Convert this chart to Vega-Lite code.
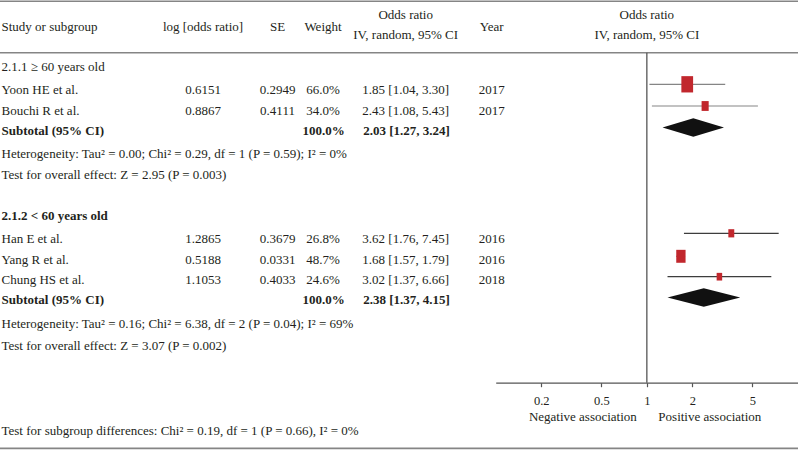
{
  "$schema": "https://vega.github.io/schema/vega-lite/v6.json",
  "width": 798,
  "height": 450,
  "padding": 0,
  "autosize": {"type": "none"},
  "background": "white",
  "config": {
    "view": {"stroke": null},
    "text": {"font": "Liberation Serif", "fontSize": 13, "color": "#231f20"}
  },
  "datasets": {
    "table": [
      {"line": 1.525, "study": "Study or subgroup", "logor": "log [odds ratio]", "se": "SE", "weight": "Weight", "year": "Year", "bold": false},
      {"line": 0.965, "ci": "Odds ratio", "bold": false},
      {"line": 1.965, "ci": "IV, random, 95% CI", "bold": false},
      {"line": 3.55, "study": "2.1.1 ≥ 60 years old", "bold": false},
      {"line": 4.7, "study": "Yoon HE et al.", "logor": "0.6151", "se": "0.2949", "weight": "66.0%", "ci": "1.85 [1.04, 3.30]", "year": "2017", "bold": false},
      {"line": 5.735, "study": "Bouchi R et al.", "logor": "0.8867", "se": "0.4111", "weight": "34.0%", "ci": "2.43 [1.08, 5.43]", "year": "2017", "bold": false},
      {"line": 6.735, "study": "Subtotal (95% CI)", "weight": "100.0%", "ci": "2.03 [1.27, 3.24]", "bold": true},
      {"line": 7.9, "study": "Heterogeneity: Tau² = 0.00; Chi² = 0.29, df = 1 (P = 0.59); I² = 0%", "bold": false},
      {"line": 8.965, "study": "Test for overall effect: Z = 2.95 (P = 0.003)", "bold": false},
      {"line": 11.0, "study": "2.1.2 < 60 years old", "bold": true},
      {"line": 12.165, "study": "Han E et al.", "logor": "1.2865", "se": "0.3679", "weight": "26.8%", "ci": "3.62 [1.76, 7.45]", "year": "2016", "bold": false},
      {"line": 13.2, "study": "Yang R et al.", "logor": "0.5188", "se": "0.0331", "weight": "48.7%", "ci": "1.68 [1.57, 1.79]", "year": "2016", "bold": false},
      {"line": 14.2, "study": "Chung HS et al.", "logor": "1.1053", "se": "0.4033", "weight": "24.6%", "ci": "3.02 [1.37, 6.66]", "year": "2018", "bold": false},
      {"line": 15.2, "study": "Subtotal (95% CI)", "weight": "100.0%", "ci": "2.38 [1.37, 4.15]", "bold": true},
      {"line": 16.415, "study": "Heterogeneity: Tau² = 0.16; Chi² = 6.38, df = 2 (P = 0.04); I² = 69%", "bold": false},
      {"line": 17.485, "study": "Test for overall effect: Z = 3.07 (P = 0.002)", "bold": false},
      {"line": 21.735, "study": "Test for subgroup differences: Chi² = 0.19, df = 1 (P = 0.66), I² = 0%", "bold": false}
    ],
    "rules": [
      {"line": 0.06, "kind": "top"},
      {"line": 2.635, "kind": "header"},
      {"line": 22.42, "kind": "bottom"}
    ],
    "studies": [
      {"study": "Yoon HE et al.", "grp": "1", "line": 4.215, "or": 1.85, "lo": 1.04, "hi": 3.30, "w": 66.0},
      {"study": "Bouchi R et al.", "grp": "1", "line": 5.3, "or": 2.43, "lo": 1.08, "hi": 5.43, "w": 34.0},
      {"study": "Han E et al.", "grp": "2", "line": 11.665, "or": 3.62, "lo": 1.76, "hi": 7.45, "w": 26.8},
      {"study": "Yang R et al.", "grp": "2", "line": 12.815, "or": 1.68, "lo": 1.57, "hi": 1.79, "w": 48.7},
      {"study": "Chung HS et al.", "grp": "2", "line": 13.835, "or": 3.02, "lo": 1.37, "hi": 6.66, "w": 24.6}
    ],
    "diamonds": [
      {"sub": "1", "x": 1.27, "top": 6.375, "bot": 6.375},
      {"sub": "1", "x": 2.03, "top": 5.915, "bot": 6.835},
      {"sub": "1", "x": 3.24, "top": 6.375, "bot": 6.375},
      {"sub": "2", "x": 1.37, "top": 14.875, "bot": 14.875},
      {"sub": "2", "x": 2.38, "top": 14.415, "bot": 15.335},
      {"sub": "2", "x": 4.15, "top": 14.875, "bot": 14.875}
    ],
    "nullline": [
      {"or": 1, "from": 2.635, "to": 19.135}
    ],
    "plothead": [
      {"line": 0.965, "label": "Odds ratio"},
      {"line": 1.965, "label": "IV, random, 95% CI"}
    ],
    "assoc": [
      {"line": 21.065, "side": "neg", "label": "Negative association"},
      {"line": 21.065, "side": "pos", "label": "Positive association"}
    ]
  },
  "encoding": {
    "y": {"field": "line", "type": "quantitative", "scale": {"domain": [0, 22.5], "reverse": true, "nice": false, "zero": false}, "axis": null}
  },
  "resolve": {"scale": {"x": "independent"}},
  "layer": [
    {
      "layer": [
        {
          "data": {"name": "table"},
          "transform": [{"filter": "isValid(datum.study) && !datum.bold"}],
          "mark": {"type": "text", "align": "left", "baseline": "alphabetic"},
          "encoding": {
            "x": {"datum": 1.5, "type": "quantitative", "scale": {"domain": [0, 798], "nice": false, "zero": false}, "axis": null},
            "text": {"field": "study"}
          }
        },
        {
          "data": {"name": "table"},
          "transform": [{"filter": "isValid(datum.study) && datum.bold"}],
          "mark": {"type": "text", "align": "left", "baseline": "alphabetic", "fontWeight": "bold"},
          "encoding": {
            "x": {"datum": 1.5, "type": "quantitative", "axis": null},
            "text": {"field": "study"}
          }
        },
        {
          "data": {"name": "table"},
          "transform": [{"filter": "isValid(datum.logor)"}],
          "mark": {"type": "text", "align": "center", "baseline": "alphabetic"},
          "encoding": {
            "x": {"datum": 203, "type": "quantitative", "axis": null},
            "text": {"field": "logor"}
          }
        },
        {
          "data": {"name": "table"},
          "transform": [{"filter": "isValid(datum.se)"}],
          "mark": {"type": "text", "align": "center", "baseline": "alphabetic"},
          "encoding": {
            "x": {"datum": 277.5, "type": "quantitative", "axis": null},
            "text": {"field": "se"}
          }
        },
        {
          "data": {"name": "table"},
          "transform": [{"filter": "isValid(datum.weight) && !datum.bold"}],
          "mark": {"type": "text", "align": "center", "baseline": "alphabetic"},
          "encoding": {
            "x": {"datum": 323, "type": "quantitative", "axis": null},
            "text": {"field": "weight"}
          }
        },
        {
          "data": {"name": "table"},
          "transform": [{"filter": "isValid(datum.weight) && datum.bold"}],
          "mark": {"type": "text", "align": "center", "baseline": "alphabetic", "fontWeight": "bold"},
          "encoding": {
            "x": {"datum": 323.5, "type": "quantitative", "axis": null},
            "text": {"field": "weight"}
          }
        },
        {
          "data": {"name": "table"},
          "transform": [{"filter": "isValid(datum.ci) && !datum.bold"}],
          "mark": {"type": "text", "align": "center", "baseline": "alphabetic"},
          "encoding": {
            "x": {"datum": 405.7, "type": "quantitative", "axis": null},
            "text": {"field": "ci"}
          }
        },
        {
          "data": {"name": "table"},
          "transform": [{"filter": "isValid(datum.ci) && datum.bold"}],
          "mark": {"type": "text", "align": "center", "baseline": "alphabetic", "fontWeight": "bold"},
          "encoding": {
            "x": {"datum": 406.5, "type": "quantitative", "axis": null},
            "text": {"field": "ci"}
          }
        },
        {
          "data": {"name": "table"},
          "transform": [{"filter": "isValid(datum.year)"}],
          "mark": {"type": "text", "align": "center", "baseline": "alphabetic"},
          "encoding": {
            "x": {"datum": 491.7, "type": "quantitative", "axis": null},
            "text": {"field": "year"}
          }
        },
        {
          "data": {"name": "rules"},
          "mark": {"type": "rule", "color": "#858585", "strokeWidth": 1.6},
          "encoding": {
            "x": {"datum": 0, "type": "quantitative", "axis": null},
            "x2": {"datum": 798}
          }
        }
      ]
    },
    {
      "layer": [
        {
          "data": {"name": "nullline"},
          "mark": {"type": "rule", "color": "#555555", "strokeWidth": 1.3},
          "encoding": {
            "x": {"field": "or", "type": "quantitative",
              "scale": {"type": "log", "domain": [0.1, 10], "range": [495.7, 798], "nice": false},
              "axis": {"orient": "bottom", "offset": -67.3, "values": [0.2, 0.5, 1, 2, 5], "format": "~g", "title": null, "grid": false,
                "domainColor": "#555555", "domainWidth": 1.2, "tickColor": "#555555", "tickSize": 4, "tickWidth": 1.2,
                "labelFont": "Liberation Serif", "labelFontSize": 12.5, "labelColor": "#231f20", "labelPadding": 8, "labelOverlap": false, "labelFlush": false}},
            "y": {"field": "from", "type": "quantitative"},
            "y2": {"field": "to"}
          }
        },
        {
          "data": {"name": "studies"},
          "mark": {"type": "rule", "strokeWidth": 1.2},
          "encoding": {
            "x": {"field": "lo", "type": "quantitative"},
            "x2": {"field": "hi"},
            "color": {"field": "grp", "type": "nominal", "scale": {"domain": ["1", "2"], "range": ["#858585", "#3d3d3d"]}, "legend": null}
          }
        },
        {
          "data": {"name": "studies"},
          "mark": {"type": "point", "filled": true, "opacity": 1, "color": "#c1272d", "strokeWidth": 0, "shape": "M-0.72,-1L0.72,-1L0.72,1L-0.72,1Z"},
          "encoding": {
            "x": {"field": "or", "type": "quantitative"},
            "size": {"field": "w", "type": "quantitative", "scale": {"type": "pow", "exponent": 1.5, "domain": [24.6, 66], "range": [59, 266], "zero": false}, "legend": null}
          }
        },
        {
          "data": {"name": "diamonds"},
          "mark": {"type": "area", "color": "#111111", "opacity": 1},
          "encoding": {
            "x": {"field": "x", "type": "quantitative"},
            "y": {"field": "top", "type": "quantitative"},
            "y2": {"field": "bot"},
            "detail": {"field": "sub", "type": "nominal"}
          }
        },
        {
          "data": {"name": "plothead"},
          "mark": {"type": "text", "align": "center", "baseline": "alphabetic"},
          "encoding": {
            "x": {"datum": 1, "type": "quantitative"},
            "text": {"field": "label"}
          }
        },
        {
          "data": {"name": "assoc"},
          "transform": [{"filter": "datum.side == 'neg'"}],
          "mark": {"type": "text", "align": "right", "baseline": "alphabetic", "dx": -10},
          "encoding": {
            "x": {"datum": 1, "type": "quantitative"},
            "text": {"field": "label"}
          }
        },
        {
          "data": {"name": "assoc"},
          "transform": [{"filter": "datum.side == 'pos'"}],
          "mark": {"type": "text", "align": "left", "baseline": "alphabetic", "dx": 11.5},
          "encoding": {
            "x": {"datum": 1, "type": "quantitative"},
            "text": {"field": "label"}
          }
        }
      ]
    }
  ]
}
